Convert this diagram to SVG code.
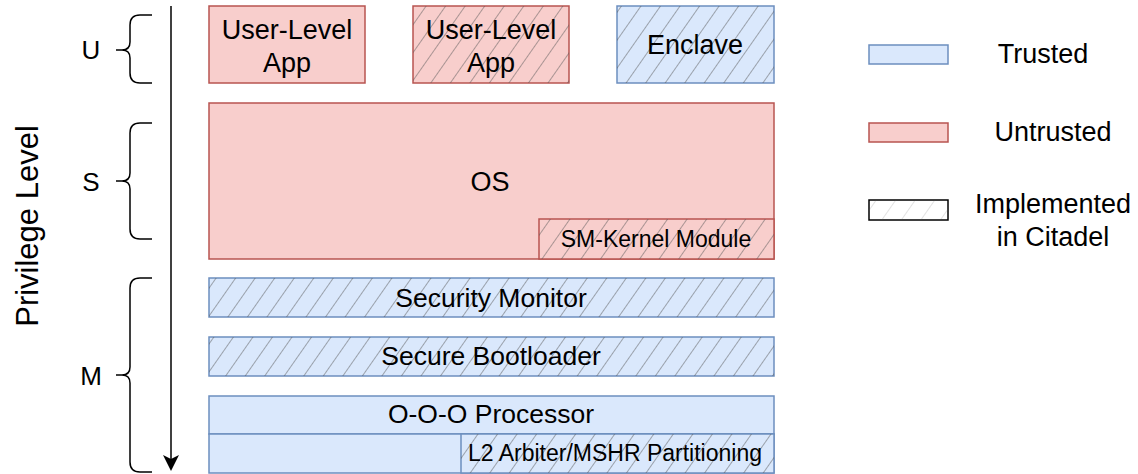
<svg xmlns="http://www.w3.org/2000/svg" width="1138" height="474" viewBox="0 0 1138 474">
<defs>
<pattern id="hatch" patternUnits="userSpaceOnUse" width="16" height="16" patternTransform="rotate(35)">
<line x1="0" y1="0" x2="0" y2="16" stroke="#555" stroke-width="1.5" stroke-opacity="0.65"/>
</pattern>
</defs>
<style>
.t{font-family:"Liberation Sans",Arial,sans-serif;fill:#000;text-anchor:middle;dominant-baseline:central}
.blue{fill:#dae8fc;stroke:#6c8ebf;stroke-width:1.5}
.red{fill:#f8cecc;stroke:#b85450;stroke-width:1.5}
.h{fill:url(#hatch);stroke:none}
.br{fill:none;stroke:#000;stroke-width:1.5}
</style>
<rect width="1138" height="474" fill="#fff"/>
<g id="connectors">
<line x1="171" y1="6" x2="171" y2="461" stroke="#000" stroke-width="1.5"/>
<path d="M171,471 L163,455 L171,459 L179,455 Z" fill="#000"/>
</g>
<g id="label-privilege"><text class="t" x="27" y="226" font-size="31" transform="rotate(-90 27 226)">Privilege Level</text></g>
<g id="brace-u">
<path class="br" d="M152,15 L140,15 Q130,15 130,25 L130,42 Q130,50 122,50 L116,50 M122,50 Q130,50 130,58 L130,73 Q130,83 140,83 L152,83"/>
<text class="t" x="91" y="50" font-size="26">U</text>
</g>
<g id="brace-s">
<path class="br" d="M152,123 L140,123 Q130,123 130,133 L130,173 Q130,181 122,181 L116,181 M122,181 Q130,181 130,189 L130,229 Q130,239 140,239 L152,239"/>
<text class="t" x="91" y="182" font-size="26">S</text>
</g>
<g id="brace-m">
<path class="br" d="M152,278 L140,278 Q130,278 130,288 L130,367 Q130,375 122,375 L116,375 M122,375 Q130,375 130,383 L130,462 Q130,472 140,472 L152,472"/>
<text class="t" x="91" y="376" font-size="26">M</text>
</g>
<g id="app1">
<rect class="red" x="209" y="6" width="156" height="77"/>
<text class="t" x="287" y="30" font-size="27">User-Level</text>
<text class="t" x="287" y="63" font-size="27">App</text>
</g>
<g id="app2">
<rect class="red" x="413" y="6" width="156" height="77"/>
<rect class="h" x="413" y="6" width="156" height="77"/>
<text class="t" x="491" y="30" font-size="27">User-Level</text>
<text class="t" x="491" y="63" font-size="27">App</text>
</g>
<g id="enclave">
<rect class="blue" x="617" y="6" width="157" height="77"/>
<rect class="h" x="617" y="6" width="157" height="77"/>
<text class="t" x="695" y="45" font-size="27">Enclave</text>
</g>
<g id="os">
<rect class="red" x="209" y="103" width="565" height="156"/>
<text class="t" x="490" y="182" font-size="27">OS</text>
</g>
<g id="sm-kernel">
<rect class="red" x="539" y="219" width="235" height="40"/>
<rect class="h" x="539" y="219" width="235" height="40"/>
<text class="t" x="656" y="239" font-size="23">SM-Kernel Module</text>
</g>
<g id="security-monitor">
<rect class="blue" x="209" y="278" width="565" height="39"/>
<rect class="h" x="209" y="278" width="565" height="39"/>
<text class="t" x="491" y="298" font-size="26.5">Security Monitor</text>
</g>
<g id="secure-bootloader">
<rect class="blue" x="209" y="337" width="565" height="39"/>
<rect class="h" x="209" y="337" width="565" height="39"/>
<text class="t" x="491" y="356" font-size="26.5">Secure Bootloader</text>
</g>
<g id="processor">
<rect class="blue" x="209" y="396" width="565" height="38"/>
<text class="t" x="491" y="414" font-size="26.5">O-O-O Processor</text>
<rect class="blue" x="209" y="434" width="565" height="39"/>
</g>
<g id="l2">
<rect class="blue" x="461" y="434" width="313" height="39"/>
<rect class="h" x="461" y="434" width="313" height="39"/>
<text class="t" x="615" y="453" font-size="23">L2 Arbiter/MSHR Partitioning</text>
</g>
<g id="legend-trusted">
<rect class="blue" x="869" y="45" width="79" height="19"/>
<text class="t" x="1043" y="54" font-size="27">Trusted</text>
</g>
<g id="legend-untrusted">
<rect class="red" x="869" y="123" width="79" height="19"/>
<text class="t" x="1053" y="132" font-size="27">Untrusted</text>
</g>
<g id="legend-implemented">
<rect x="869" y="200" width="79" height="20" fill="#fff" stroke="#000" stroke-width="1.5"/>
<rect class="h" x="869" y="200" width="79" height="20" style="opacity:0.35"/>
<text class="t" x="1053" y="204" font-size="27">Implemented</text>
<text class="t" x="1053" y="237" font-size="27">in Citadel</text>
</g>
</svg>
